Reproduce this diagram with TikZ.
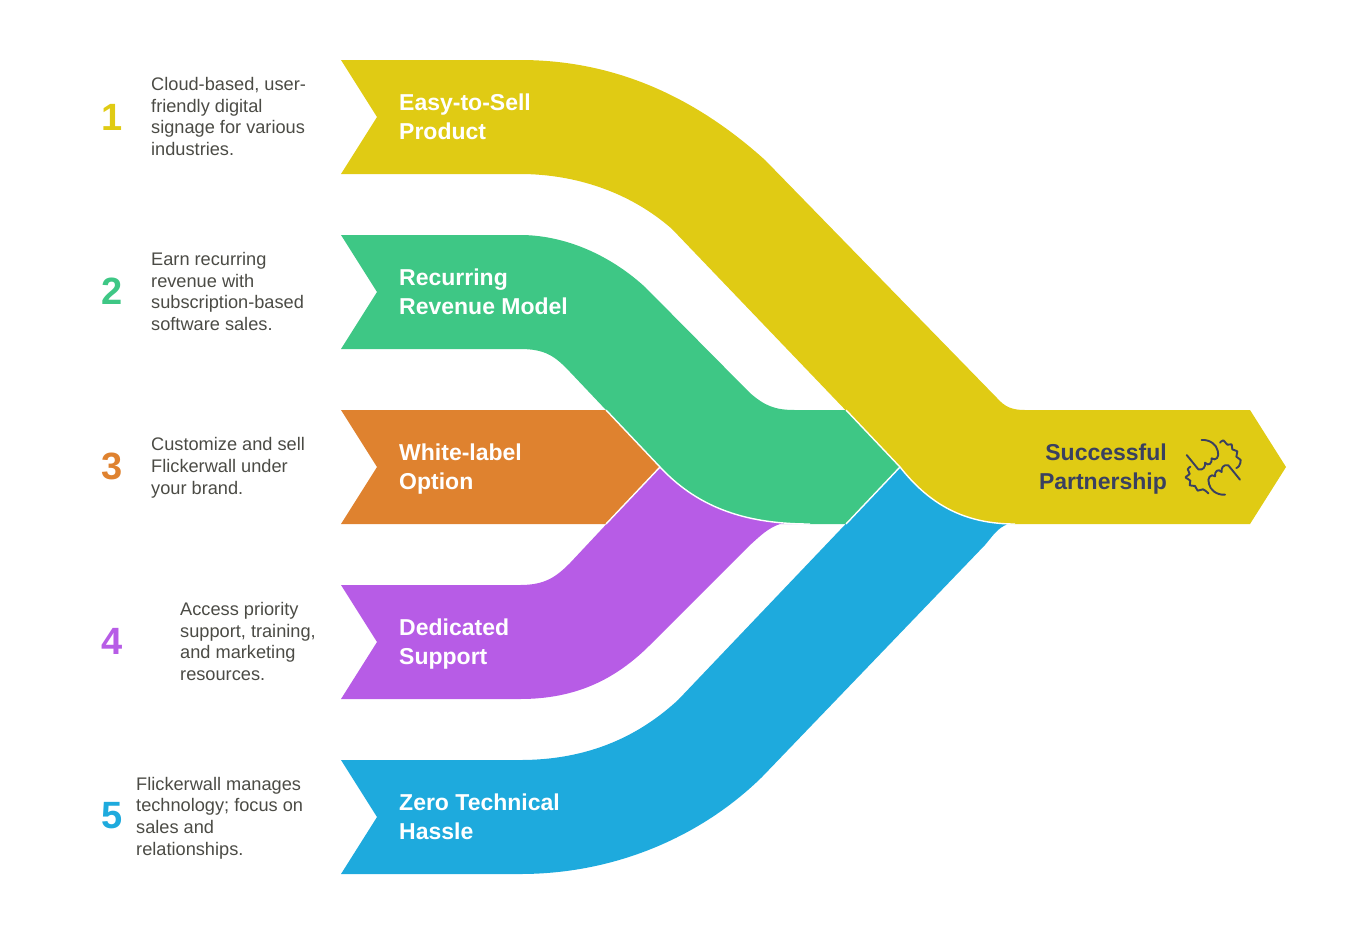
\documentclass[tikz,border=0pt]{standalone}
\usepackage{fontspec}
\setmainfont{Liberation Sans}
\definecolor{cy}{HTML}{E0CB14}
\definecolor{cg}{HTML}{3EC785}
\definecolor{co}{HTML}{DF822F}
\definecolor{cp}{HTML}{B75CE6}
\definecolor{cb}{HTML}{1EAADD}
\definecolor{ink}{HTML}{3A4060}
\definecolor{body}{HTML}{4B4B45}
\tikzset{
 ribbon/.style={draw=none},
 seam/.style={draw=white,line width=1.4pt},
 title/.style={text=white,font=\fontsize{23}{29}\selectfont\bfseries,align=left,anchor=west,inner sep=0pt},
 desc/.style={text=body,font=\fontsize{18.2}{21.8}\selectfont,align=left,anchor=west,inner sep=0pt},
 num/.style={font=\fontsize{38}{38}\selectfont\bfseries,anchor=center,inner sep=0pt},
 glyph/.style={draw=ink,line width=1.9pt,line cap=round,line join=round}
}
\begin{document}
\begin{tikzpicture}[x=1pt,y=-1pt]
\useasboundingbox (0,0) rectangle (1372,940);
% ribbons
\fill[cb,ribbon] (341,760) -- (520,760) .. controls (590,760) and (640,735) .. (678,700) -- (900,467)
 .. controls (930,505) and (965,524) .. (1015,524) -- (1008,524) .. controls (997,528) and (992,537) .. (985,545)
 -- (762,777) .. controls (705,833) and (620,874) .. (520,874) -- (341,874) -- (377,817) -- cycle;
\fill[cp,ribbon] (341,585) -- (520,585) .. controls (545,585) and (556,577) .. (570,563) -- (660,467)
 .. controls (700,510) and (750,524) .. (810,524) -- (780,524) .. controls (768,528) and (760,536) .. (749,546)
 -- (650,645) .. controls (615,680) and (575,699) .. (520,699) -- (341,699) -- (377,642) -- cycle;
\fill[co,ribbon] (341,410) -- (606,410) -- (660,467) -- (606,524) -- (341,524) -- (377,467) -- cycle;
\fill[cg,ribbon] (341,235) -- (520,235) .. controls (565,235) and (610,255) .. (645,287) -- (750,393)
 .. controls (765,406) and (775,410) .. (795,410) -- (846,410) -- (900,467) -- (846,524) -- (810,524)
 .. controls (750,524) and (700,510) .. (660,467) -- (570,372) .. controls (555,356) and (545,349) .. (520,349)
 -- (341,349) -- (377,292) -- cycle;
\fill[cy,ribbon] (341,60) -- (520,60) .. controls (615,60) and (695,97) .. (765,160) -- (997,398)
 .. controls (1005,407) and (1012,410) .. (1025,410) -- (1250,410) -- (1286,467) -- (1250,524) -- (1015,524)
 .. controls (965,524) and (930,505) .. (900,467) -- (672,229) .. controls (630,192) and (575,174) .. (520,174)
 -- (341,174) -- (377,117) -- cycle;
% seams
\draw[seam] (846,410) -- (900,467) -- (846,524);
\draw[seam] (606,410) -- (660,467) -- (606,524);
\draw[seam] (660,467) .. controls (700,510) and (750,524) .. (810,524);
\draw[seam] (900,467) .. controls (930,505) and (965,524) .. (1015,524);
% titles
\node[title] (t1) at (399,117) {Easy-to-Sell\\Product};
\node[title] (t2) at (399,292) {Recurring\\Revenue Model};
\node[title] (t3) at (399,469.5) {White-label\\Option};
\node[title] (t4) at (399,644.5) {Dedicated\\Support};
\node[title] (t5) at (399,817) {Zero Technical\\Hassle};
\node[title,text=ink,align=right,anchor=east] (t6) at (1167,469.5) {Successful\\Partnership};
% numbers
\node[num,text=cy] (n1) at (112,117) {1};
\node[num,text=cg] (n2) at (112,291) {2};
\node[num,text=co] (n3) at (112,466) {3};
\node[num,text=cp] (n4) at (112,641) {4};
\node[num,text=cb] (n5) at (112,816) {5};
% descriptions
\node[desc] (d1) at (151,116.5) {Cloud-based, user-\\friendly digital\\signage for various\\industries.};
\node[desc] (d2) at (151,291.5) {Earn recurring\\revenue with\\subscription-based\\software sales.};
\node[desc] (d3) at (151,468) {Customize and sell\\Flickerwall under\\your brand.};
\node[desc] (d4) at (180,641.5) {Access priority\\support, training,\\and marketing\\resources.};
\node[desc] (d5) at (136,818) {Flickerwall manages\\technology; focus on\\sales and\\relationships.};
% icon
\begin{scope}[shift={(1175,430)},x=0.3333pt,y=-0.3333pt]
\draw[glyph] (35,75) -- (70,118) .. controls (85,122) and (92,110) .. (90,98) .. controls (100,110) and (112,100) .. (110,85) .. controls (122,95) and (135,80) .. (128,62) .. controls (125,45) and (105,28) .. (80,30);
\draw[glyph] (195,149) -- (160,106) .. controls (145,102) and (138,114) .. (140,126) .. controls (130,114) and (118,124) .. (120,139) .. controls (108,129) and (95,144) .. (102,162) .. controls (105,179) and (125,196) .. (150,194);
\draw[glyph] plot[smooth,tension=0.6] coordinates {(135,38) (145,31) (157,44) (170,43) (172,58) (187,64) (184,80) (197,90) (192,108) (184,114)};
\draw[glyph] plot[smooth,tension=0.6] coordinates {(46,110) (38,118) (44,132) (32,142) (46,152) (44,166) (60,168) (68,182) (84,178) (100,190)};
\end{scope}
\end{tikzpicture}
\end{document}
